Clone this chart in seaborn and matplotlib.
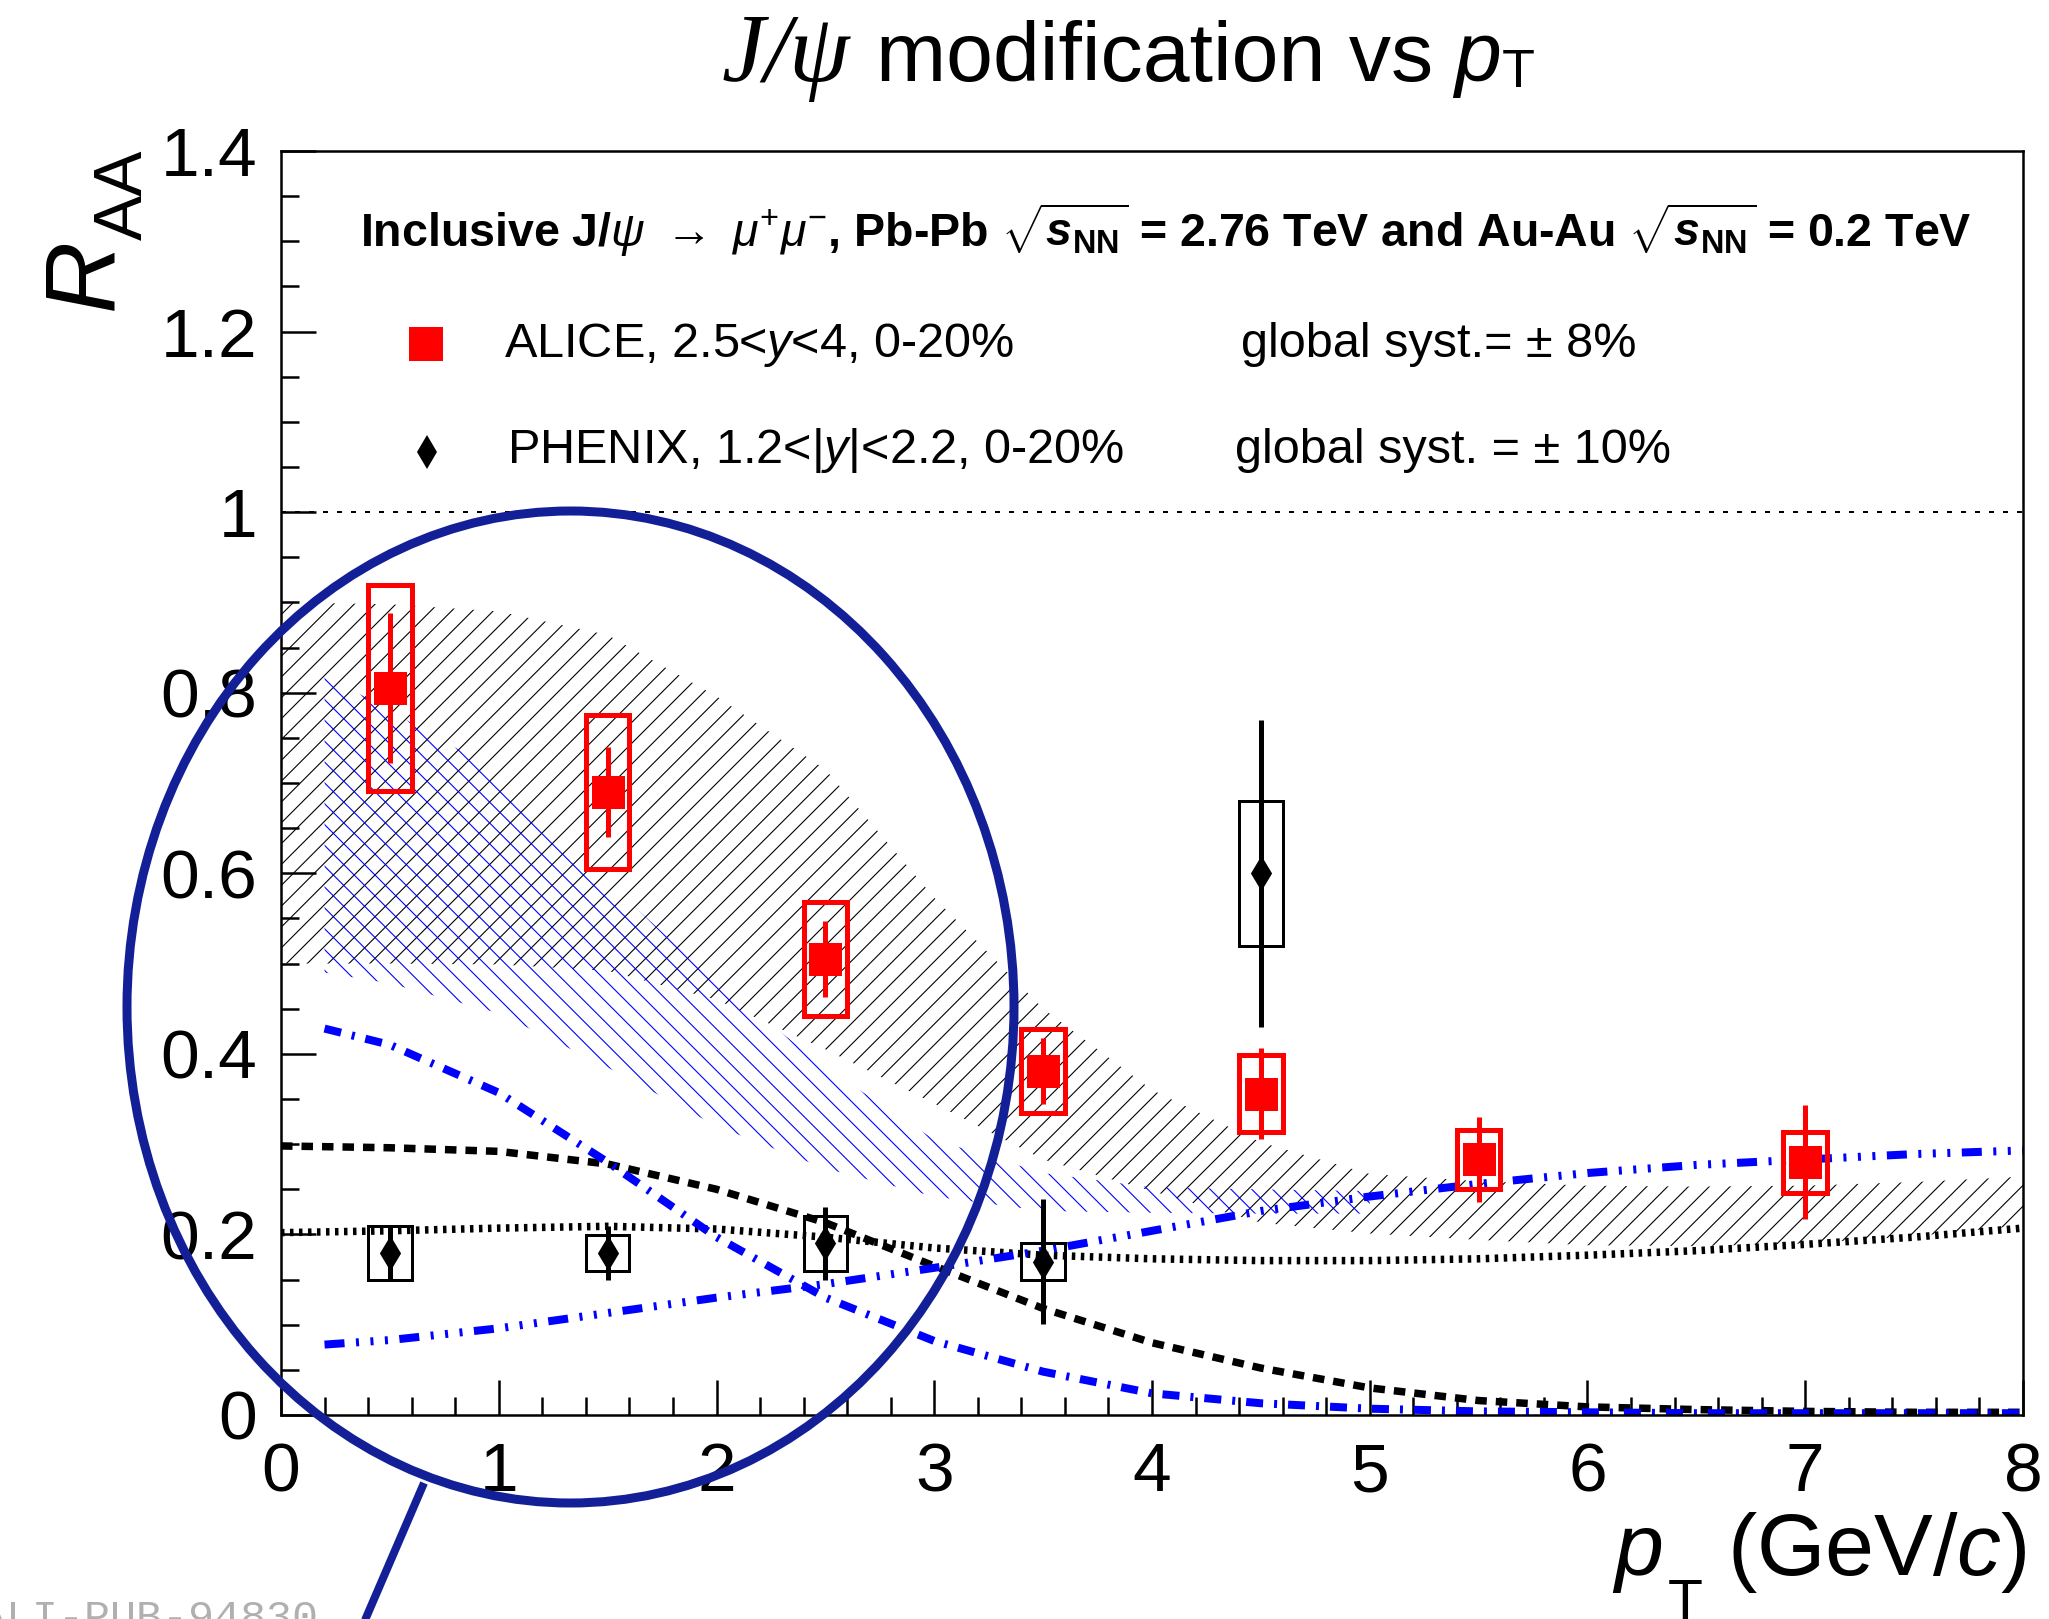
import numpy as np
import pandas as pd
import matplotlib
matplotlib.use("Agg")
import matplotlib.pyplot as plt
from matplotlib.patches import Ellipse
from matplotlib.ticker import FixedLocator, FixedFormatter, MultipleLocator
import seaborn as sns

# ---------------------------------------------------------------- data
# ALICE, Pb-Pb 2.76 TeV, 2.5<y<4, 0-20%
alice_pt = [0.5, 1.5, 2.5, 3.5, 4.5, 5.5, 7.0]
alice_raa = [0.805, 0.690, 0.505, 0.381, 0.356, 0.283, 0.280]
alice_stat = [0.083, 0.050, 0.042, 0.037, 0.050, 0.047, 0.063]
alice_syst = [0.114, 0.085, 0.063, 0.047, 0.043, 0.033, 0.034]

# PHENIX, Au-Au 0.2 TeV, 1.2<|y|<2.2, 0-20%
phenix_pt = [0.5, 1.5, 2.5, 3.5, 4.5]
phenix_raa = [0.179, 0.179, 0.190, 0.170, 0.600]
phenix_stat = [0.030, 0.030, 0.040, 0.069, 0.170]
phenix_syst = [0.030, 0.020, 0.030, 0.020, 0.080]

# transport model 1 (black): total band, primordial and regenerated parts
tm1_pt = [0.0, 0.5, 1.0, 1.5, 2.0, 2.5, 3.0, 3.5, 4.0, 4.5, 5.0, 5.5, 6.0, 6.5, 7.0, 7.5, 8.0]
tm1_upper = [0.900, 0.898, 0.890, 0.864, 0.796, 0.715, 0.573, 0.450, 0.360, 0.302, 0.267, 0.259, 0.254, 0.253, 0.254, 0.258, 0.264]
tm1_lower = [0.500, 0.500, 0.499, 0.492, 0.460, 0.405, 0.345, 0.283, 0.248, 0.213, 0.201, 0.194, 0.188, 0.187, 0.190, 0.198, 0.210]
tm1_primordial = [0.298, 0.296, 0.292, 0.278, 0.250, 0.213, 0.165, 0.118, 0.080, 0.052, 0.030, 0.016, 0.009, 0.006, 0.004, 0.003, 0.003]
tm1_regen = [0.202, 0.204, 0.207, 0.209, 0.206, 0.197, 0.185, 0.177, 0.173, 0.171, 0.171, 0.173, 0.177, 0.182, 0.189, 0.197, 0.207]

# transport model 2 (blue): total band, primordial and regenerated parts
tm2_band_pt = [0.2, 0.5, 1.0, 1.5, 2.0, 2.5, 3.0, 3.5, 4.0, 4.5, 5.0]
tm2_upper = [0.820, 0.780, 0.712, 0.590, 0.480, 0.385, 0.305, 0.268, 0.252, 0.250, 0.248]
tm2_lower = [0.490, 0.478, 0.445, 0.385, 0.320, 0.273, 0.242, 0.226, 0.224, 0.223, 0.223]
tm2_pt = [0.2, 0.5, 1.0, 1.5, 2.0, 2.5, 3.0, 3.5, 4.0, 4.5, 5.0, 5.5, 6.0, 6.5, 7.0, 7.5, 8.0]
tm2_primordial = [0.428, 0.410, 0.357, 0.280, 0.197, 0.130, 0.082, 0.048, 0.024, 0.013, 0.007, 0.004, 0.003, 0.002, 0.002, 0.002, 0.002]
tm2_regen = [0.078, 0.083, 0.096, 0.113, 0.130, 0.145, 0.163, 0.182, 0.204, 0.226, 0.242, 0.256, 0.268, 0.277, 0.283, 0.289, 0.293]

x_ticks = [0, 1, 2, 3, 4, 5, 6, 7, 8]
x_tick_labels = ["0", "1", "2", "3", "4", "5", "6", "7", "8"]
y_ticks = [0.0, 0.2, 0.4, 0.6, 0.8, 1.0, 1.2, 1.4]
y_tick_labels = ["0", "0.2", "0.4", "0.6", "0.8", "1", "1.2", "1.4"]

# ---------------------------------------------------------------- style
DPI = 125
W, H = 2049, 1619
PX = 72.0 / DPI  # one pixel in points

sns.set_theme(style="ticks")
plt.rcParams.update({
    "font.family": ["Liberation Sans", "DejaVu Sans"],
    "mathtext.fontset": "custom",
    "mathtext.rm": "Liberation Sans",
    "mathtext.it": "Liberation Sans:italic",
    "mathtext.bf": "Liberation Sans:bold",
    "mathtext.bfit": "Liberation Sans:italic:bold",
    "text.color": "black",
    "axes.edgecolor": "black",
    "axes.linewidth": 2.5 * PX,
    "xtick.color": "black",
    "ytick.color": "black",
    "hatch.linewidth": 1.1 * PX,
    "lines.scale_dashes": False,
})

RED = "#ff0000"
BLUE = "#0000ff"
NAVY = "#131f96"

fig = plt.figure(figsize=(W / DPI, H / DPI), dpi=DPI, facecolor="white")
ax = fig.add_axes([281 / W, 1 - 1415 / H, (2023 - 281) / W, (1415 - 151) / H])

# model bands
ax.fill_between(tm1_pt, tm1_lower, tm1_upper, facecolor="none",
                edgecolor="black", hatch="//", linewidth=0, zorder=1)
ax.fill_between(tm2_band_pt, tm2_lower, tm2_upper, facecolor="none",
                edgecolor=BLUE, hatch="\\\\", linewidth=0, zorder=1)

# unity reference
ax.axhline(1.0, color="black", linewidth=2 * PX,
           linestyle=(0, (5 * PX, 9 * PX)), zorder=1)

# model curves
curves = pd.DataFrame({"pt": tm1_pt, "prim": tm1_primordial, "regen": tm1_regen})
curves2 = pd.DataFrame({"pt": tm2_pt, "prim": tm2_primordial, "regen": tm2_regen})
sns.lineplot(data=curves, x="pt", y="regen", ax=ax, color="black",
             linewidth=7.5 * PX, linestyle=(0, (3.5 * PX, 5.5 * PX)),
             estimator=None, sort=False, zorder=2)
sns.lineplot(data=curves, x="pt", y="prim", ax=ax, color="black",
             linewidth=7.5 * PX, linestyle=(0, (11.5 * PX, 9 * PX)),
             estimator=None, sort=False, zorder=2)
sns.lineplot(data=curves2, x="pt", y="prim", ax=ax, color=BLUE,
             linewidth=8 * PX,
             linestyle=(0, (17 * PX, 11 * PX, 3 * PX, 11 * PX)),
             estimator=None, sort=False, zorder=2)
sns.lineplot(data=curves2, x="pt", y="regen", ax=ax, color=BLUE,
             linewidth=8 * PX,
             linestyle=(0, (20 * PX, 11.5 * PX, 3 * PX, 11.5 * PX,
                            3 * PX, 11.5 * PX, 3 * PX, 11.5 * PX)),
             estimator=None, sort=False, zorder=2)

# systematic boxes
a_pt, a_raa, a_sys = map(np.asarray, (alice_pt, alice_raa, alice_syst))
p_pt, p_raa, p_sys = map(np.asarray, (phenix_pt, phenix_raa, phenix_syst))
ax.bar(p_pt, 2 * p_sys, bottom=p_raa - p_sys, width=0.2, fill=False,
       edgecolor="black", linewidth=3 * PX, zorder=3)
ax.bar(a_pt, 2 * a_sys, bottom=a_raa - a_sys, width=0.2, fill=False,
       edgecolor=RED, linewidth=5 * PX, zorder=3)

# statistical errors
ax.errorbar(phenix_pt, phenix_raa, yerr=phenix_stat, fmt="none",
            ecolor="black", elinewidth=5 * PX, capsize=0, zorder=4)
ax.errorbar(alice_pt, alice_raa, yerr=alice_stat, fmt="none",
            ecolor=RED, elinewidth=5 * PX, capsize=0, zorder=4)

# data points
sns.scatterplot(x=phenix_pt, y=phenix_raa, ax=ax, marker="d",
                s=(25 * PX) ** 2, color="black", linewidth=0, zorder=5)
sns.scatterplot(x=alice_pt, y=alice_raa, ax=ax, marker="s",
                s=(33 * PX) ** 2, color=RED, linewidth=0, zorder=5)

# axes
ax.set_xlim(0, 8)
ax.set_ylim(0, 1.4)
ax.set_xlabel("")
ax.set_ylabel("")
ax.xaxis.set_major_locator(FixedLocator(x_ticks))
ax.xaxis.set_major_formatter(FixedFormatter(x_tick_labels))
ax.yaxis.set_major_locator(FixedLocator(y_ticks))
ax.yaxis.set_major_formatter(FixedFormatter(y_tick_labels))
ax.xaxis.set_minor_locator(MultipleLocator(0.2))
ax.yaxis.set_minor_locator(MultipleLocator(0.05))
ax.tick_params(which="major", direction="in", length=35 * PX,
               width=2.5 * PX, labelsize=40, top=False, right=False)
ax.tick_params(which="minor", direction="in", length=18 * PX,
               width=2.5 * PX, top=False, right=False)
ax.tick_params(axis="y", which="major", pad=24 * PX)
ax.tick_params(axis="x", which="major", pad=26 * PX)
for sp in ax.spines.values():
    sp.set_visible(True)
    sp.set_color("black")

# ---------------------------------------------------------------- overlay (pixel coordinates)
ov = fig.add_axes([0, 0, 1, 1], zorder=10)
ov.set_xlim(0, W)
ov.set_ylim(H, 0)
ov.axis("off")
ov.patch.set_alpha(0)

# title
ov.text(792, 81, "J/", family="Liberation Serif", style="italic",
        fontsize=56, ha="right", va="baseline")
ov.text(788, 81, "ψ", family="Liberation Serif", style="italic",
        fontsize=56, ha="left", va="baseline")
ov.text(876, 81, "modification vs", fontsize=48.5, ha="left", va="baseline")
ov.text(1454, 81, "p", style="italic", fontsize=48.5, ha="left", va="baseline")
ov.text(1502, 87, "T", fontsize=31, ha="left", va="baseline")

# axis titles
ov.text(112, 310, "R", style="italic", fontsize=57.5, rotation=90,
        rotation_mode="anchor", ha="left", va="baseline")
ov.text(142, 240, "AA", fontsize=39, rotation=90,
        rotation_mode="anchor", ha="left", va="baseline")
ov.text(1614, 1575, "p", style="italic", fontsize=50.7, ha="left", va="baseline")
ov.text(1668, 1620, "T", fontsize=33, ha="left", va="baseline")
ov.text(2027, 1575, "(GeV/$c$)", fontsize=50.7, ha="right", va="baseline")

# legend
ov.text(360, 247,
        r"Inclusive J/$\psi$ $\rightarrow$ $\mu^{+}\mu^{-}$, Pb-Pb "
        r"$\sqrt{\mathbfit{s}_{\mathbf{NN}}}$ = 2.76 TeV and Au-Au "
        r"$\sqrt{\mathbfit{s}_{\mathbf{NN}}}$ = 0.2 TeV",
        fontsize=26.8, fontweight="bold", ha="left", va="baseline")
ov.plot([426], [344], marker="s", markersize=34 * PX, color=RED,
        markeredgewidth=0, linestyle="none")
ov.text(504, 357, "ALICE, 2.5<$y$<4, 0-20%", fontsize=28,
        ha="left", va="baseline")
ov.text(1241, 357, "global syst.= ± 8%", fontsize=28, ha="left", va="baseline")
ov.plot([427], [452], marker="d", markersize=23.5 * PX, color="black",
        markeredgewidth=0, linestyle="none")
ov.text(507, 463, "PHENIX, 1.2<|$y$|<2.2, 0-20%", fontsize=28,
        ha="left", va="baseline")
ov.text(1235, 463, "global syst. = ± 10%", fontsize=28, ha="left", va="baseline")

# highlight of the low-pT region
ov.add_patch(Ellipse((570.5, 1007), 887, 992, fill=False, edgecolor=NAVY,
                     linewidth=9 * PX, zorder=20))
ov.plot([424, 350], [1483, 1655], color=NAVY, linewidth=8 * PX,
        solid_capstyle="butt", zorder=20)

# figure id
ov.text(-20, 1630, "ALI-PUB-94830", family="Liberation Mono", fontsize=25,
        color="#b0b0b0", ha="left", va="baseline")

fig.savefig("out.png", dpi=DPI, facecolor="white")
